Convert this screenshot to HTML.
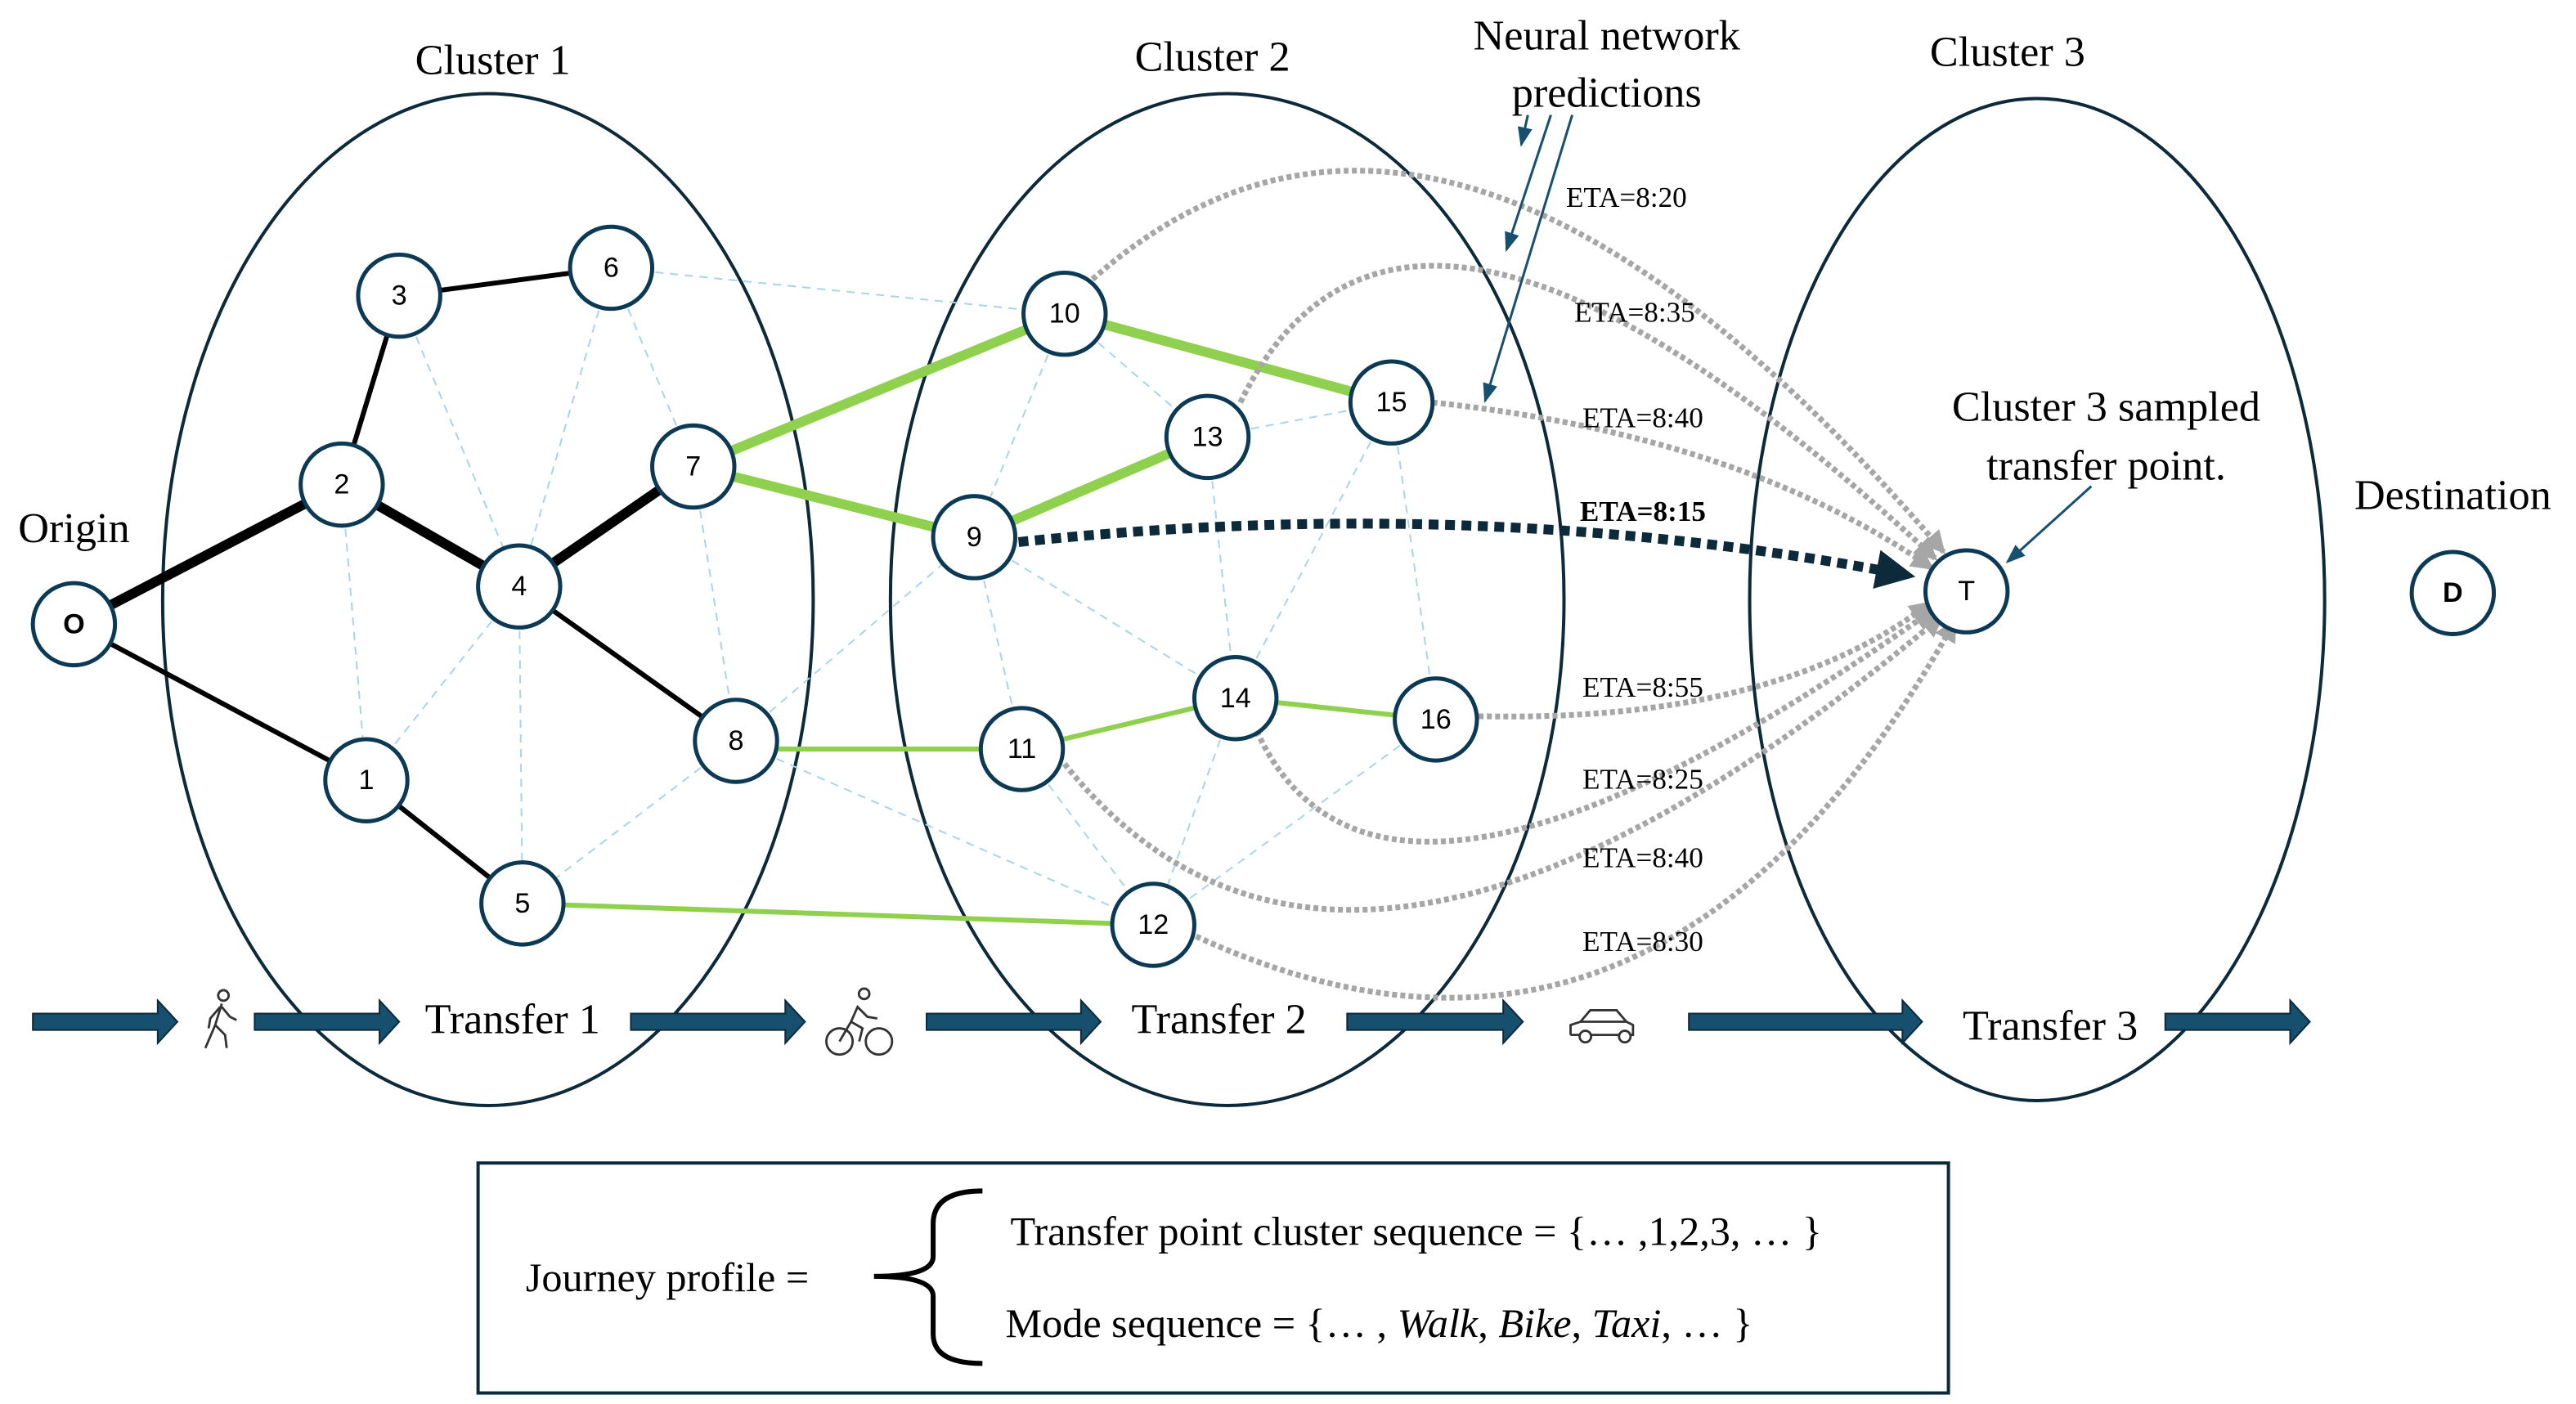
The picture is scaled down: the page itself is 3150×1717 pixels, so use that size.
<!DOCTYPE html>
<html><head><meta charset="utf-8"><style>
html,body{margin:0;padding:0;background:#fff}
svg{display:block}
.t{font-family:"Liberation Serif",serif;fill:#000}
.n{font-family:"Liberation Sans",sans-serif;font-size:17px;text-anchor:middle;dominant-baseline:central}
</style></head><body>
<svg width="3150" height="1717" viewBox="0 0 1568 854.7" preserveAspectRatio="none" xmlns="http://www.w3.org/2000/svg">
<defs>
<marker id="ga" markerWidth="4" markerHeight="4" refX="3.5" refY="2" orient="auto" markerUnits="strokeWidth"><path d="M0,0 L4,2 L0,4 z" fill="#a6a6a6"/></marker>
<marker id="da" markerWidth="4" markerHeight="4" refX="3" refY="2" orient="auto" markerUnits="strokeWidth"><path d="M0,0 L4,2 L0,4 z" fill="#0c2a3a"/></marker>
<marker id="ba" markerWidth="8" markerHeight="8" refX="7" refY="4" orient="auto" markerUnits="strokeWidth"><path d="M0,1 L8,4 L0,7 z" fill="#17506f"/></marker>
</defs>
<g fill="none" stroke="#0c2a3a" stroke-width="2">
<ellipse cx="297" cy="365" rx="198" ry="308"/>
<ellipse cx="747" cy="365" rx="205" ry="308"/>
<ellipse cx="1240" cy="365" rx="175" ry="305"/>
</g>
<g stroke="#a9d4ea" stroke-width="1" stroke-dasharray="5,4" fill="none">
<line x1="243" y1="180" x2="316" y2="357"/><line x1="372" y1="163" x2="316" y2="357"/>
<line x1="372" y1="163" x2="422" y2="284"/><line x1="208" y1="295" x2="223" y2="475"/>
<line x1="316" y1="357" x2="223" y2="475"/><line x1="316" y1="357" x2="318" y2="550"/>
<line x1="422" y1="284" x2="448" y2="451"/><line x1="448" y1="451" x2="318" y2="550"/>
<line x1="372" y1="163" x2="648" y2="191"/><line x1="448" y1="451" x2="593" y2="327"/>
<line x1="448" y1="451" x2="702" y2="563"/><line x1="648" y1="191" x2="593" y2="327"/>
<line x1="648" y1="191" x2="735" y2="266"/><line x1="735" y1="266" x2="847" y2="245"/>
<line x1="735" y1="266" x2="752" y2="425"/><line x1="593" y1="327" x2="752" y2="425"/>
<line x1="593" y1="327" x2="622" y2="456"/><line x1="847" y1="245" x2="874" y2="438"/>
<line x1="847" y1="245" x2="752" y2="425"/><line x1="622" y1="456" x2="702" y2="563"/>
<line x1="752" y1="425" x2="702" y2="563"/><line x1="874" y1="438" x2="702" y2="563"/>
</g>
<g stroke="#000" fill="none">
<line x1="45" y1="380" x2="208" y2="295" stroke-width="6"/>
<line x1="208" y1="295" x2="316" y2="357" stroke-width="6"/>
<line x1="316" y1="357" x2="422" y2="284" stroke-width="6"/>
<line x1="45" y1="380" x2="223" y2="475" stroke-width="3"/>
<line x1="208" y1="295" x2="243" y2="180" stroke-width="3"/>
<line x1="243" y1="180" x2="372" y2="163" stroke-width="3"/>
<line x1="316" y1="357" x2="448" y2="451" stroke-width="3"/>
<line x1="223" y1="475" x2="318" y2="550" stroke-width="3"/>
</g>
<g stroke="#8fd14f" fill="none">
<line x1="422" y1="284" x2="648" y2="191" stroke-width="6"/>
<line x1="422" y1="284" x2="593" y2="327" stroke-width="6"/>
<line x1="648" y1="191" x2="847" y2="245" stroke-width="6"/>
<line x1="593" y1="327" x2="735" y2="266" stroke-width="6"/>
<line x1="448" y1="456" x2="622" y2="456" stroke-width="3"/>
<line x1="622" y1="456" x2="752" y2="425" stroke-width="3"/>
<line x1="752" y1="425" x2="874" y2="438" stroke-width="3"/>
<line x1="318" y1="550" x2="702" y2="563" stroke-width="3"/>
</g>
<g stroke="#a6a6a6" stroke-width="3.5" stroke-dasharray="3,2" fill="none" marker-end="url(#ga)">
<path d="M665 170 Q880 -20 1183 336"/>
<path d="M755 245 Q855 40 1178 340"/>
<path d="M872 245 Q1060 265 1176 346"/>
<path d="M900 436 Q1080 440 1175 367"/>
<path d="M765 445 Q840 610 1177 371"/>
<path d="M648 465 Q820 680 1182 375"/>
<path d="M728 570 Q1010 700 1190 378"/>
</g>
<path d="M620 330 Q900 300 1160 350" stroke="#0c2a3a" stroke-width="6" stroke-dasharray="6,4" fill="none" marker-end="url(#da)"/>
<g fill="#fff" stroke="#0c3a55" stroke-width="2.5">
<circle cx="45" cy="380" r="25"/><circle cx="223" cy="475" r="25"/><circle cx="208" cy="295" r="25"/>
<circle cx="243" cy="180" r="25"/><circle cx="316" cy="357" r="25"/><circle cx="318" cy="550" r="25"/>
<circle cx="372" cy="163" r="25"/><circle cx="422" cy="284" r="25"/><circle cx="448" cy="451" r="25"/>
<circle cx="593" cy="327" r="25"/><circle cx="648" cy="191" r="25"/><circle cx="622" cy="456" r="25"/>
<circle cx="702" cy="563" r="25"/><circle cx="735" cy="266" r="25"/><circle cx="752" cy="425" r="25"/>
<circle cx="847" cy="245" r="25"/><circle cx="874" cy="438" r="25"/><circle cx="1197" cy="360" r="25"/>
<circle cx="1493" cy="361" r="25"/>
</g>
<g class="n">
<text x="45" y="380" font-weight="bold">O</text><text x="223" y="475">1</text><text x="208" y="295">2</text>
<text x="243" y="180">3</text><text x="316" y="357">4</text><text x="318" y="550">5</text>
<text x="372" y="163">6</text><text x="422" y="284">7</text><text x="448" y="451">8</text>
<text x="593" y="327">9</text><text x="648" y="191">10</text><text x="622" y="456">11</text>
<text x="702" y="563">12</text><text x="735" y="266">13</text><text x="752" y="425">14</text>
<text x="847" y="245">15</text><text x="874" y="438">16</text><text x="1197" y="360">T</text>
<text x="1493" y="361" font-weight="bold">D</text>
</g>
<g class="t" font-size="17.5" text-anchor="middle">
<text x="990" y="126">ETA=8:20</text><text x="995" y="196">ETA=8:35</text>
<text x="1000" y="260">ETA=8:40</text><text x="1000" y="317" font-weight="bold">ETA=8:15</text>
<text x="1000" y="424">ETA=8:55</text><text x="1000" y="480">ETA=8:25</text>
<text x="1000" y="528">ETA=8:40</text><text x="1000" y="579">ETA=8:30</text>
</g>
<g class="t" font-size="26" text-anchor="middle">
<text x="300" y="45">Cluster 1</text><text x="738" y="43">Cluster 2</text><text x="1222" y="40">Cluster 3</text>
<text x="978" y="30">Neural network</text><text x="978" y="65">predictions</text>
<text x="45" y="330">Origin</text><text x="1493" y="310">Destination</text>
<text x="1282" y="256">Cluster 3 sampled</text><text x="1282" y="292">transfer point.</text>
<text x="312" y="629">Transfer 1</text><text x="742" y="629">Transfer 2</text><text x="1248" y="633">Transfer 3</text>
</g>
<g stroke="#17506f" stroke-width="1.5" marker-end="url(#ba)">
<line x1="930" y1="70" x2="926" y2="88"/>
<line x1="944" y1="70" x2="917" y2="152"/>
<line x1="957" y1="70" x2="904" y2="244"/>
<line x1="1273" y1="296" x2="1222" y2="342"/>
</g>
<g fill="#17506f" stroke="#0c2a3a" stroke-width="1">
<path d="M20 617 h76 v-8 l12 13 l-12 13 v-8 h-76z"/>
<path d="M155 617 h76 v-8 l12 13 l-12 13 v-8 h-76z"/>
<path d="M384 617 h94 v-8 l12 13 l-12 13 v-8 h-94z"/>
<path d="M564 617 h94 v-8 l12 13 l-12 13 v-8 h-94z"/>
<path d="M820 617 h95 v-8 l12 13 l-12 13 v-8 h-95z"/>
<path d="M1028 617 h130 v-8 l12 13 l-12 13 v-8 h-130z"/>
<path d="M1318 617 h76 v-8 l12 13 l-12 13 v-8 h-76z"/>
</g>
<g fill="none" stroke="#333" stroke-width="1.4">
<circle cx="136" cy="606" r="3.2"/>
<path d="M135 611 l-4 13 l-6 14 M131 624 l6 6 l1 8 M134 613 l-6 7 l-1 6 M135 613 l5 6 l4 2"/>
<circle cx="511" cy="634" r="8"/><circle cx="535" cy="634" r="8"/>
<circle cx="526" cy="605" r="3.2"/>
<path d="M511 634 l7 -12 l7 4 l-2 8 M518 622 l4 -9 l6 6 l6 1"/>
<path d="M956 630 v-6 l6 -2 l6 -7 h16 l6 7 l4 2 v6 h-38 M962 622 h28"/>
<circle cx="965" cy="631" r="3.5" fill="#fff"/><circle cx="989" cy="631" r="3.5" fill="#fff"/>
</g>
<rect x="291" y="708" width="895" height="140" fill="none" stroke="#0c2a3a" stroke-width="2"/>
<path d="M598 725 Q568 725 568 745 L568 765 Q568 777 532 777 Q568 777 568 789 L568 812 Q568 830 598 830" fill="none" stroke="#000" stroke-width="3"/>
<g class="t" font-size="25">
<text x="320" y="786">Journey profile =</text>
<text x="615" y="758">Transfer point cluster sequence = {… ,1,2,3, … }</text>
<text x="612" y="814">Mode sequence = {… , <tspan font-style="italic">Walk</tspan>, <tspan font-style="italic">Bike</tspan>, <tspan font-style="italic">Taxi</tspan>, … }</text>
</g>
</svg>
</body></html>
